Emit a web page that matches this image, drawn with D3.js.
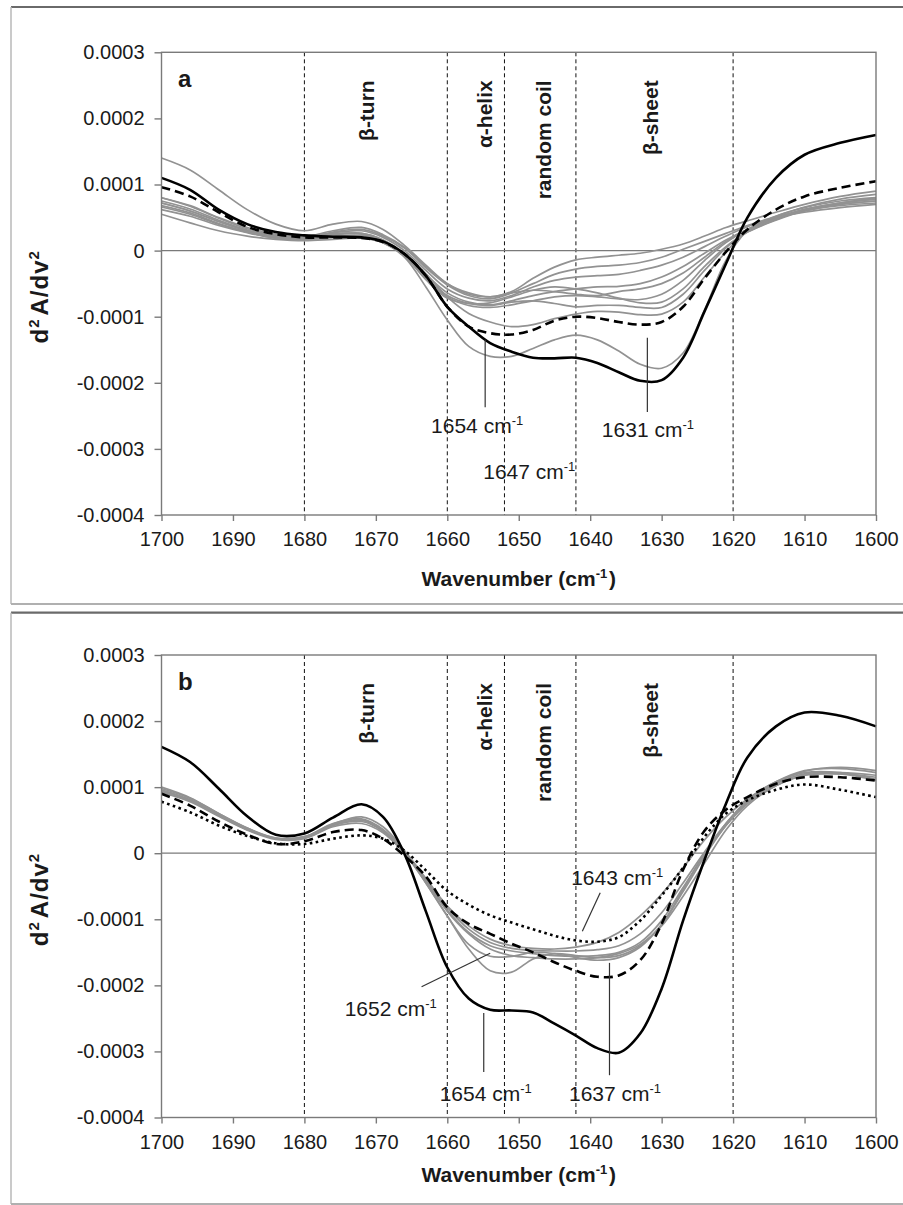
<!DOCTYPE html>
<html><head><meta charset="utf-8">
<script src="https://cdn.jsdelivr.net/npm/d3@7"></script>
<style>body{margin:0;background:#fff}svg{display:block}text{font-family:"Liberation Sans",Arial,sans-serif;fill:#1a1a1a}</style>
</head><body><svg id="chart" width="903" height="1205"></svg>
<script>
// ---- data (second-derivative values in units of 1e-4) ----
const wavenumbers = [1700,1696,1692,1688,1684,1680,1676,1672,1669,1666,1663,1660,1657,1654,1651,1648,1645,1642,1639,1636,1633,1630,1627,1624,1621,1618,1614,1610,1605,1600];
const xTicks = [1700,1690,1680,1670,1660,1650,1640,1630,1620,1610,1600];
const yTicks = [0.0003,0.0002,0.0001,0,-0.0001,-0.0002,-0.0003,-0.0004];
const yTickLabels = ["0.0003","0.0002","0.0001","0","-0.0001","-0.0002","-0.0003","-0.0004"];
const regionBounds = [1680,1660,1652,1642,1620];
const regionLabels = ["β-turn","α-helix","random coil","β-sheet"];
const regionLabelAt = [1671.3,1654.8,1646.5,1631.6];

const aSolid  = [1.10,0.92,0.62,0.40,0.28,0.23,0.21,0.20,0.14,-0.05,-0.38,-0.85,-1.15,-1.40,-1.53,-1.62,-1.63,-1.62,-1.70,-1.84,-1.97,-1.96,-1.62,-0.92,-0.20,0.50,1.10,1.45,1.63,1.75];
const aDashed = [0.96,0.82,0.58,0.36,0.25,0.20,0.20,0.19,0.13,-0.05,-0.38,-0.85,-1.15,-1.25,-1.27,-1.20,-1.06,-1.00,-1.02,-1.08,-1.12,-1.08,-0.85,-0.42,-0.02,0.32,0.62,0.82,0.95,1.05];
const aGray = [
 [0.55,0.42,0.30,0.22,0.17,0.15,0.17,0.19,0.12,-0.10,-0.55,-1.05,-1.45,-1.60,-1.60,-1.48,-1.35,-1.28,-1.35,-1.52,-1.72,-1.78,-1.55,-0.90,-0.15,0.30,0.50,0.58,0.65,0.70],
 [0.80,0.68,0.50,0.35,0.25,0.22,0.26,0.25,0.15,-0.05,-0.35,-0.70,-0.95,-1.08,-1.15,-1.12,-1.03,-0.96,-0.92,-0.93,-0.97,-0.96,-0.78,-0.40,-0.02,0.30,0.52,0.65,0.75,0.80],
 [1.40,1.22,0.92,0.62,0.40,0.30,0.40,0.44,0.32,0.08,-0.22,-0.50,-0.66,-0.70,-0.62,-0.42,-0.25,-0.14,-0.10,-0.07,-0.04,0.02,0.10,0.22,0.35,0.45,0.58,0.70,0.82,0.90],
 [0.72,0.60,0.44,0.30,0.21,0.19,0.27,0.30,0.20,0.00,-0.30,-0.58,-0.72,-0.76,-0.68,-0.55,-0.45,-0.40,-0.38,-0.36,-0.30,-0.22,-0.10,0.06,0.22,0.36,0.50,0.62,0.72,0.80],
 [0.66,0.55,0.40,0.28,0.20,0.18,0.24,0.26,0.16,-0.04,-0.36,-0.64,-0.78,-0.82,-0.76,-0.68,-0.62,-0.58,-0.55,-0.54,-0.50,-0.40,-0.24,-0.04,0.16,0.32,0.48,0.60,0.70,0.75],
 [0.75,0.63,0.46,0.31,0.22,0.19,0.22,0.23,0.14,-0.08,-0.42,-0.70,-0.83,-0.86,-0.82,-0.76,-0.70,-0.68,-0.70,-0.73,-0.74,-0.66,-0.45,-0.15,0.12,0.32,0.50,0.62,0.72,0.78],
 [0.68,0.57,0.41,0.28,0.19,0.17,0.20,0.21,0.12,-0.08,-0.44,-0.72,-0.80,-0.79,-0.70,-0.60,-0.55,-0.58,-0.64,-0.72,-0.79,-0.78,-0.58,-0.24,0.06,0.28,0.46,0.60,0.68,0.72],
 [0.62,0.52,0.38,0.27,0.19,0.18,0.28,0.32,0.22,0.04,-0.26,-0.52,-0.68,-0.73,-0.64,-0.50,-0.36,-0.28,-0.24,-0.22,-0.18,-0.10,0.02,0.14,0.26,0.38,0.52,0.66,0.78,0.85],
 [0.72,0.60,0.44,0.30,0.21,0.19,0.24,0.26,0.16,-0.06,-0.40,-0.68,-0.80,-0.83,-0.78,-0.76,-0.80,-0.85,-0.83,-0.83,-0.86,-0.86,-0.66,-0.30,0.04,0.28,0.47,0.62,0.70,0.75],
 [0.80,0.67,0.49,0.33,0.23,0.21,0.30,0.35,0.24,0.05,-0.24,-0.50,-0.64,-0.70,-0.64,-0.60,-0.62,-0.66,-0.68,-0.62,-0.58,-0.50,-0.34,-0.10,0.14,0.32,0.48,0.62,0.72,0.78]
];

const bSolid  = [1.61,1.38,0.98,0.56,0.28,0.30,0.54,0.74,0.55,-0.01,-0.88,-1.73,-2.20,-2.37,-2.38,-2.41,-2.58,-2.76,-2.95,-3.02,-2.73,-2.05,-1.02,-0.10,0.75,1.45,1.92,2.13,2.08,1.92];
const bDashed = [0.90,0.72,0.48,0.28,0.14,0.18,0.32,0.35,0.22,-0.04,-0.35,-0.82,-1.07,-1.22,-1.37,-1.50,-1.65,-1.78,-1.87,-1.85,-1.62,-1.07,-0.25,0.34,0.66,0.85,1.05,1.15,1.15,1.10];
const bDotted = [0.78,0.62,0.42,0.26,0.15,0.14,0.22,0.27,0.22,0.04,-0.26,-0.57,-0.78,-0.94,-1.05,-1.15,-1.25,-1.32,-1.34,-1.27,-1.02,-0.64,-0.22,0.25,0.60,0.80,0.96,1.04,0.96,0.85];
const bGray = [
 [0.95,0.80,0.58,0.36,0.22,0.24,0.42,0.48,0.33,0.00,-0.45,-0.95,-1.45,-1.78,-1.80,-1.60,-1.52,-1.55,-1.58,-1.55,-1.40,-1.08,-0.58,-0.05,0.42,0.75,1.02,1.18,1.20,1.15],
 [1.00,0.84,0.60,0.38,0.22,0.25,0.45,0.52,0.36,0.02,-0.45,-0.95,-1.38,-1.56,-1.56,-1.50,-1.52,-1.58,-1.62,-1.58,-1.42,-1.08,-0.55,0.00,0.45,0.80,1.08,1.25,1.28,1.22],
 [0.92,0.78,0.56,0.35,0.21,0.22,0.40,0.45,0.31,0.00,-0.40,-0.82,-1.15,-1.35,-1.44,-1.47,-1.48,-1.48,-1.46,-1.40,-1.22,-0.90,-0.45,0.02,0.45,0.78,1.05,1.20,1.22,1.18],
 [0.96,0.81,0.58,0.37,0.22,0.23,0.42,0.50,0.34,0.01,-0.42,-0.86,-1.20,-1.40,-1.48,-1.52,-1.55,-1.56,-1.55,-1.50,-1.35,-1.02,-0.52,-0.02,0.42,0.76,1.06,1.24,1.30,1.25],
 [0.94,0.79,0.57,0.36,0.23,0.25,0.44,0.55,0.40,0.04,-0.38,-0.80,-1.10,-1.30,-1.40,-1.44,-1.45,-1.42,-1.35,-1.20,-0.95,-0.62,-0.22,0.20,0.55,0.82,1.08,1.22,1.22,1.12],
 [0.98,0.83,0.60,0.38,0.23,0.24,0.43,0.50,0.35,0.02,-0.42,-0.88,-1.22,-1.45,-1.55,-1.58,-1.60,-1.60,-1.58,-1.52,-1.38,-1.10,-0.65,-0.15,0.35,0.72,1.02,1.18,1.20,1.10]
];

// annotations: wavenumber / value (1e-4) anchors
const aNotes = [
 {label:"1654", text:[1655.7,-2.76], line:[[1654.7,-1.35],[1654.7,-2.37]]},
 {label:"1631", text:[1631.8,-2.82], line:[[1632.0,-1.32],[1632.0,-2.44]]},
 {label:"1647", text:[1648.4,-3.46], line:null}
];
const bNotes = [
 {label:"1643", text:[1636.1,-0.48], line:[[1638.6,-0.60],[1641.1,-1.18]]},
 {label:"1652", text:[1667.8,-2.46], line:[[1663.6,-2.02],[1654.0,-1.515]]},
 {label:"1654", text:[1654.5,-3.75], line:[[1654.9,-2.42],[1654.9,-3.31]]},
 {label:"1637", text:[1636.4,-3.75], line:[[1637.3,-1.66],[1637.3,-3.36]]}
];

// ---- layout ----
const svg = d3.select("#chart");
const left = 161.5, right = 876;
const axisGray = "#7a7a7a";

const panels = [
 {letter:"a", top:52.3, bottom:515, frameTop:7, frameBottom:604, titleBase:586, solid:aSolid, dashed:aDashed, dotted:null, gray:aGray, notes:aNotes},
 {letter:"b", top:655, bottom:1117.5, frameTop:612.7, frameBottom:1204, titleBase:1182, solid:bSolid, dashed:bDashed, dotted:bDotted, gray:bGray, notes:bNotes}
];

function supText(sel, parts, supSize, supDy){
  parts.forEach(p=>{
    if(p.sup){
      sel.append("tspan").attr("dy",-supDy).attr("font-size",supSize).text(p.t);
      sel.append("tspan").attr("dy",supDy).text("\u200A");
    } else sel.append("tspan").text(p.t);
  });
}

panels.forEach(P=>{
  const x = d3.scaleLinear().domain([1700,1600]).range([left,right]);
  const y = d3.scaleLinear().domain([-0.0004,0.0003]).range([P.bottom,P.top]);
  const g = svg.append("g");

  // panel frame
  g.append("line").attr("x1",11).attr("x2",903).attr("y1",P.frameTop).attr("y2",P.frameTop).attr("stroke","#6a6a6a").attr("stroke-width",2.2);
  g.append("line").attr("x1",11).attr("x2",11).attr("y1",P.frameTop).attr("y2",P.frameBottom).attr("stroke","#b8b8b8").attr("stroke-width",1.5);
  g.append("line").attr("x1",11).attr("x2",903).attr("y1",P.frameBottom).attr("y2",P.frameBottom).attr("stroke","#b0b0b0").attr("stroke-width",1.8);

  // region boundaries
  g.selectAll(".rb").data(regionBounds).join("line")
    .attr("x1",d=>x(d)).attr("x2",d=>x(d)).attr("y1",P.top).attr("y2",P.bottom)
    .attr("stroke","#111").attr("stroke-width",1).attr("stroke-dasharray","4,3");

  // zero line
  g.append("line").attr("x1",left).attr("x2",right).attr("y1",y(0)).attr("y2",y(0)).attr("stroke",axisGray).attr("stroke-width",1.3);

  const line = d3.line().x((d,i)=>x(wavenumbers[i])).y(d=>y(d*1e-4)).curve(d3.curveCatmullRom.alpha(0.5));

  g.selectAll(".gray").data(P.gray).join("path").attr("d",d=>line(d))
    .attr("fill","none").attr("stroke","#929292").attr("stroke-width",1.7);
  if(P.dotted) g.append("path").attr("d",line(P.dotted)).attr("fill","none").attr("stroke","#000").attr("stroke-width",2.6).attr("stroke-dasharray","2.6,3.4");
  g.append("path").attr("d",line(P.dashed)).attr("fill","none").attr("stroke","#000").attr("stroke-width",2.6).attr("stroke-dasharray","9,5");
  g.append("path").attr("d",line(P.solid)).attr("fill","none").attr("stroke","#000").attr("stroke-width",2.6);

  // plot frame
  g.append("rect").attr("x",left).attr("y",P.top).attr("width",right-left).attr("height",P.bottom-P.top)
    .attr("fill","none").attr("stroke",axisGray).attr("stroke-width",1.4);

  // y axis
  const yAxis = d3.axisLeft(y).tickValues(yTicks).tickFormat((d,i)=>yTickLabels[i]).tickSize(7).tickPadding(10);
  const ya = g.append("g").attr("transform",`translate(${left},0)`).call(yAxis);
  ya.select(".domain").remove();
  ya.selectAll("line").attr("stroke",axisGray).attr("stroke-width",1.4);
  ya.selectAll("text").attr("font-size",20).attr("font-family","Liberation Sans, Arial, sans-serif").attr("fill","#1a1a1a");

  // x axis
  const xAxis = d3.axisBottom(x).tickValues(xTicks).tickFormat(d3.format("d")).tickSize(6).tickPadding(11);
  const xa = g.append("g").attr("transform",`translate(0,${P.bottom})`).call(xAxis);
  xa.select(".domain").remove();
  xa.selectAll("line").attr("stroke",axisGray).attr("stroke-width",1.4);
  xa.selectAll("text").attr("font-size",20).attr("font-family","Liberation Sans, Arial, sans-serif").attr("fill","#1a1a1a");

  // x title
  const xt = g.append("text").attr("x",(left+right)/2).attr("y",P.titleBase).attr("text-anchor","middle")
    .attr("font-size",21).attr("font-weight","bold");
  supText(xt,[{t:"Wavenumber (cm"},{t:"-1",sup:true},{t:")"}],13,8);

  // y title
  const yc = P.top + 243;
  const yt = g.append("text").attr("transform",`translate(48,${yc}) rotate(-90)`).attr("text-anchor","middle")
    .attr("font-size",24).attr("font-weight","bold").attr("letter-spacing",1);
  supText(yt,[{t:"d"},{t:"2",sup:true},{t:"A/dv"},{t:"2",sup:true}],15,9);

  // panel letter
  g.append("text").attr("x",178).attr("y",P.top+35).attr("font-size",24).attr("font-weight","bold").text(P.letter);

  // region labels
  g.selectAll(".rl").data(regionLabels).join("text")
    .attr("transform",(d,i)=>`translate(${x(regionLabelAt[i])+7.5},${P.top+28}) rotate(-90)`)
    .attr("text-anchor","end").attr("font-size",21).attr("font-weight","bold").text(d=>d);

  // annotations
  P.notes.forEach(n=>{
    if(n.line) g.append("line").attr("x1",x(n.line[0][0])).attr("y1",y(n.line[0][1]*1e-4))
      .attr("x2",x(n.line[1][0])).attr("y2",y(n.line[1][1]*1e-4)).attr("stroke","#333").attr("stroke-width",1.2);
    const t = g.append("text").attr("x",x(n.text[0])).attr("y",y(n.text[1]*1e-4)).attr("text-anchor","middle").attr("font-size",21);
    supText(t,[{t:n.label+" cm"},{t:"-1",sup:true}],13,8);
  });
});
</script></body></html>
